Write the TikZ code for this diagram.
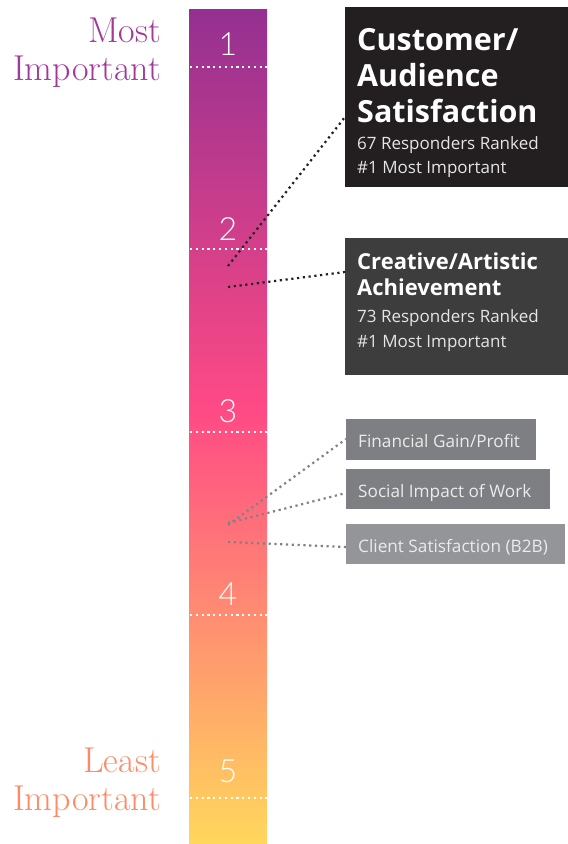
\documentclass[tikz,border=0pt]{standalone}
\usepackage{fontspec}
\newfontfamily\boxfont{Open Sans}
\newfontfamily\numfont{Lato}[UprightFont=* Light]
\definecolor{barTop}{HTML}{943091}
\definecolor{barMid}{HTML}{FF4A85}
\definecolor{barBot}{HTML}{FFD75C}
\definecolor{mostC}{HTML}{A0399A}
\definecolor{leastC}{HTML}{FF8A63}
\definecolor{boxA}{HTML}{231F20}
\definecolor{boxB}{HTML}{3D3D3D}
\definecolor{boxC}{HTML}{7E7F83}
\definecolor{boxD}{HTML}{939598}
\definecolor{linkDark}{HTML}{231F20}
\definecolor{linkGrey}{HTML}{808285}
\tikzset{
  endlabel/.style={inner sep=0pt, anchor=base east, font=\fontsize{36}{36}\selectfont, align=right},
  rank/.style={inner sep=0pt, anchor=base, text=white, font=\numfont\fontsize{32}{32}\selectfont},
  tick/.style={white, line width=2.2pt, dash pattern=on 2.2pt off 3.6pt},
  panel/.style={inner sep=0pt, anchor=north west, minimum height=#1},
  bigtitle/.style={inner sep=0pt, anchor=base west, text=white, font=\boxfont\bfseries\fontsize{30.5}{30.5}\selectfont},
  midtitle/.style={inner sep=0pt, anchor=base west, text=white, font=\boxfont\bfseries\fontsize{22}{22}\selectfont},
  subline/.style={inner sep=0pt, anchor=base west, text=white!90!black, font=\boxfont\fontsize{17}{17}\selectfont},
  tag/.style={inner sep=0pt, anchor=base west, text=white!92!black, font=\boxfont\fontsize{17.2}{17.2}\selectfont},
  darklink/.style={linkDark, line width=2.2pt, dash pattern=on 2.2pt off 3.6pt},
  greylink/.style={linkGrey, line width=2.2pt, dash pattern=on 2.2pt off 3.6pt},
}
\begin{document}
\begin{tikzpicture}[x=1pt,y=-1pt]
\useasboundingbox (0,0) rectangle (568,844);

% ranking bar
\shade[top color=barTop, bottom color=barMid] (189,9) rectangle (267,410.5);
\shade[top color=barMid, bottom color=barBot] (189,410) rectangle (267,843);

% rank divisions
\foreach \y in {67,249,432,615,798} \draw[tick] (190,\y) -- (267,\y);
\node[rank] (r1) at (228,55) {1};
\node[rank] (r2) at (228,240) {2};
\node[rank] (r3) at (228,422) {3};
\node[rank] (r4) at (228,605) {4};
\node[rank] (r5) at (228,782) {5};

% scale ends
\node[endlabel, text=mostC] (most1) at (161,42) {Most};
\node[endlabel, text=mostC] (most2) at (161,80) {Important};
\node[endlabel, text=leastC] (least1) at (161,772) {Least};
\node[endlabel, text=leastC] (least2) at (161,810) {Important};

% first place panels
\node[panel=180pt, fill=boxA, minimum width=223pt] (p1) at (345,7) {};
\node[bigtitle] (t1a) at (357,50) {Customer/};
\node[bigtitle] (t1b) at (357,86) {Audience};
\node[bigtitle] (t1c) at (357,122) {Satisfaction};
\node[subline] (s1a) at (357,149) {67 Responders Ranked};
\node[subline] (s1b) at (357,173) {\#1 Most Important};

\node[panel=137pt, fill=boxB, minimum width=223pt] (p2) at (345,238) {};
\node[midtitle] (t2a) at (357,269) {Creative/Artistic};
\node[midtitle] (t2b) at (357,295) {Achievement};
\node[subline] (s2a) at (357,322) {73 Responders Ranked};
\node[subline] (s2b) at (357,347) {\#1 Most Important};

% remaining criteria
\node[panel=41pt, fill=boxC, minimum width=190pt] (p3) at (346,419) {};
\node[tag] (t3) at (358,447) {Financial Gain/Profit};
\node[panel=40pt, fill=boxC, minimum width=204pt] (p4) at (346,469) {};
\node[tag] (t4) at (358,497) {Social Impact of Work};
\node[panel=40pt, fill=boxD, minimum width=219pt] (p5) at (346,524) {};
\node[tag] (t5) at (358,552) {Client Satisfaction (B2B)};

% leaders from the bar
\coordinate (a1) at (228,266);
\coordinate (a2) at (228,287);
\coordinate (a3) at (228,525);
\coordinate (a4) at (228,523);
\coordinate (a5) at (228,542);
\coordinate (e1) at (345,117);
\coordinate (e2) at (345,272);
\coordinate (e3) at (346,439);
\coordinate (e4) at (346,493);
\coordinate (e5) at (346,547);
\draw[darklink] (a1) -- (e1);
\draw[darklink] (a2) -- (e2);
\draw[greylink] (a3) -- (e3);
\draw[greylink] (a4) -- (e4);
\draw[greylink] (a5) -- (e5);
\end{tikzpicture}
\end{document}
